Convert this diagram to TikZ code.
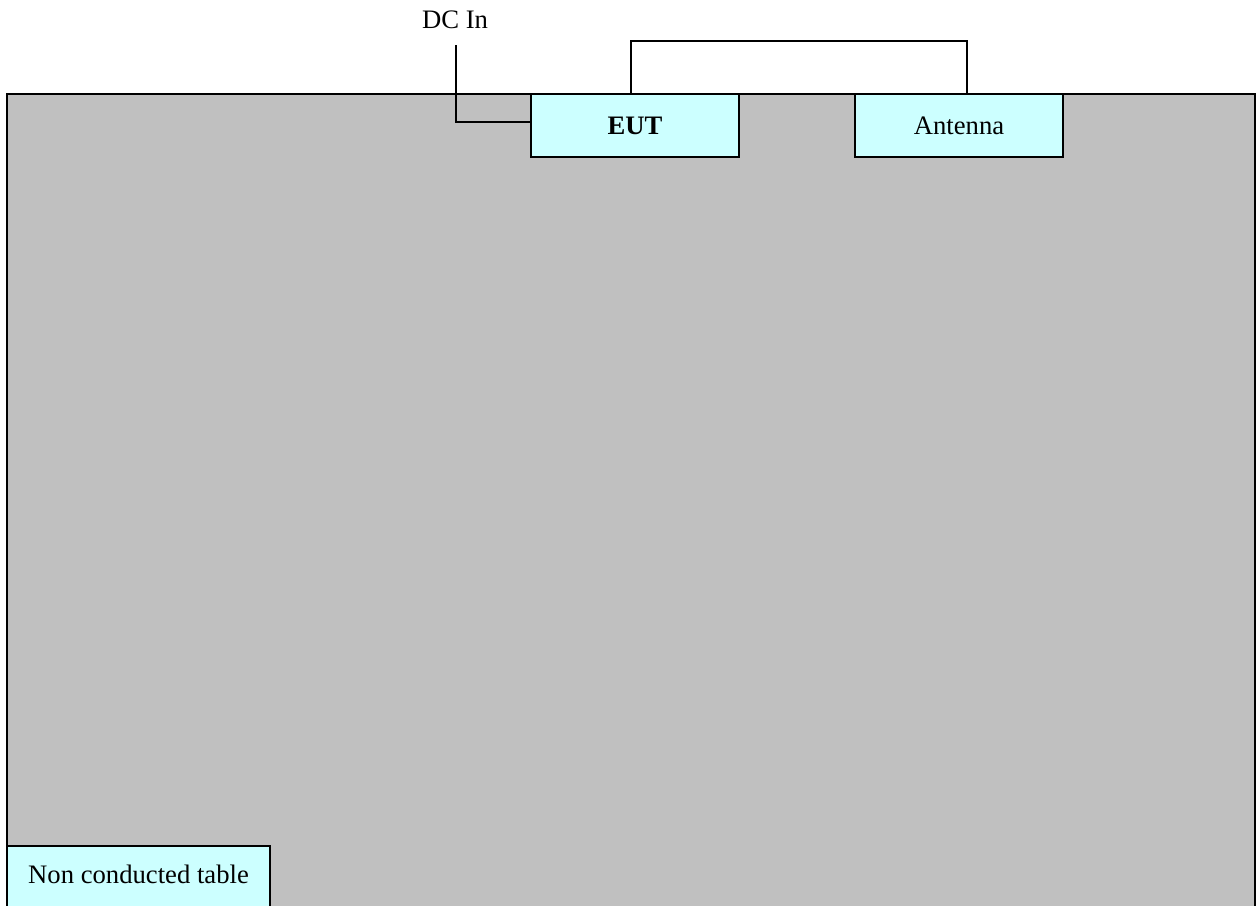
\documentclass[tikz,border=0pt]{standalone}
\usepackage{fontspec}
\setmainfont{Liberation Serif}
\usepackage{tikz}
\definecolor{tablegray}{HTML}{C0C0C0}
\definecolor{boxcyan}{HTML}{CCFFFF}

\begin{document}
\begin{tikzpicture}[x=0.45pt, y=-0.45pt, line width=0.8pt,
    unitbox/.style={draw, fill=boxcyan, inner sep=0pt, outer sep=0pt,
        minimum width=93.6pt, minimum height=28.4pt, font=\fontsize{12}{14}\selectfont},
    label/.style={draw=none, inner sep=0pt, font=\fontsize{12}{14}\selectfont}]
             \useasboundingbox (0, 0) rectangle (1256, 905);
             \clip (0, 0) rectangle (1256, 905);

             % table
             \draw[fill=tablegray] (7, 94) rectangle (1255, 920);

             \node[unitbox, anchor=north west] (eut) at (531, 94) {\textbf{EUT}};
             \node[unitbox, anchor=north west] (ant) at (855, 94) {Antenna};
             \node[unitbox, anchor=north west, minimum width=118.4pt, minimum height=31pt]
                  (tbl) at (7, 846) {\raisebox{6pt}{Non conducted table}};

             \node[label] (dc) at (455, 20) {DC In};
             \coordinate (dcend) at (456, 45);

             % cables
             \draw (dcend) |- ([yshift=1.6pt]eut.west);
             \draw ([xshift=-1.8pt]eut.north) -- ++(0, -53) -| ([xshift=3.6pt]ant.north);
             \end{tikzpicture}
\end{document}
